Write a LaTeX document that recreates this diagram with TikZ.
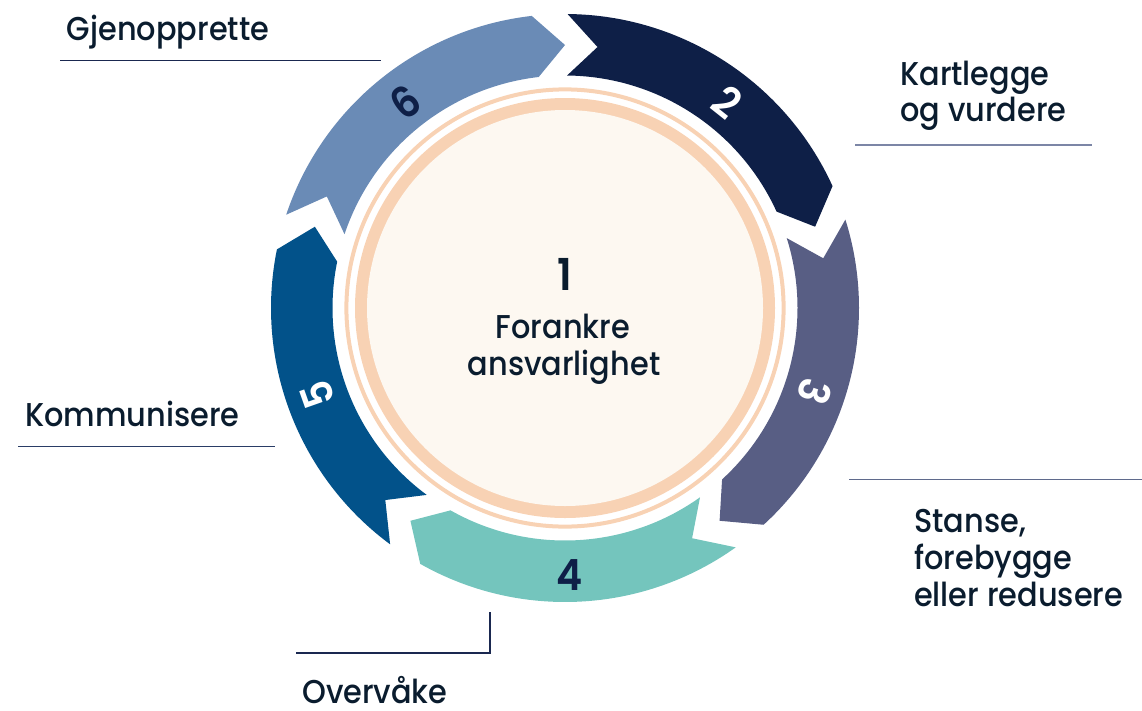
\documentclass[tikz,border=0pt]{standalone}
\usepackage{fontspec}
\setmainfont{Poppins}[UprightFont={* Medium},BoldFont={* SemiBold},FakeStretch=0.92]
\definecolor{segB}{HTML}{0E1F47}
\definecolor{segC}{HTML}{585E84}
\definecolor{segD}{HTML}{74C5BD}
\definecolor{segE}{HTML}{02528A}
\definecolor{segF}{HTML}{6A8BB6}
\definecolor{peach}{HTML}{F8D2B4}
\definecolor{cream}{HTML}{FDF8F1}
\definecolor{ink}{HTML}{0A1C2E}
\definecolor{leadA}{HTML}{1A2850}
\definecolor{leadB}{HTML}{7C86A6}
\definecolor{leadC}{HTML}{5F6A8C}
\definecolor{leadD}{HTML}{2A3D66}
\begin{document}
\begin{tikzpicture}[x=1pt,y=1pt,
  lbl/.style={anchor=base west, inner sep=0pt, text=ink, font=\fontsize{33}{36}\selectfont},
  ctr/.style={anchor=base, inner sep=0pt, text=ink, font=\fontsize{33}{36}\selectfont},
  num/.style={inner sep=0pt, font=\bfseries\fontsize{43}{43}\selectfont},
  leader/.style={line width=1.4pt}]
\useasboundingbox (0,0) rectangle (1142,-710);
\begin{scope}[shift={(565,-308)}]
  \coordinate (c) at (0,0);
  % inner circle with peach rings
  \fill[peach] (c) circle[radius=210pt];
  \fill[cream] (c) circle[radius=198pt];
  \draw[peach, line width=4pt] (c) circle[radius=218.6pt];
  % arrow segments
  \foreach \k/\col in {0/segB,1/segC,2/segD,3/segE,4/segF}{
    \pgfmathsetmacro\T{89.5-72*\k}
    \pgfmathsetmacro\H{\T-65}
    \pgfmathsetmacro\P{\T-71.5}
    \pgfmathsetmacro\N{\T-6.6}
    \fill[\col] (\T:294pt) arc[start angle=\T, end angle=\H, radius=294pt]
      -- (\P:263pt) -- (\H:232.5pt)
      arc[start angle=\H, end angle=\T, radius=232.5pt]
      -- (\N:263pt) -- cycle;
  }
  % numbers
  \node[num, text=white, rotate=-38.5] (n2) at (51.7:262) {2};
  \node[num, text=white, rotate=-108.5] (n3) at (-18.5:263) {3};
  \node[num, text=segB] (n4) at (-89:267) {4};
  \node[num, text=white, rotate=109.4] (n5) at (199.4:262) {5};
  \node[num, text=segB, rotate=36] (n6) at (127.8:260) {6};
\end{scope}
% centre text
\node[ctr, font=\bfseries\fontsize{44}{44}\selectfont] (one) at (565,-290.7) {1};
\node[ctr] (fa) at (563,-338.3) {Forankre};
\node[ctr] (fb) at (564,-375) {ansvarlighet};
% labels
\node[lbl] (gjen) at (66.7,-40) {Gjenopprette};
\draw[leader, leadA] (60,-60.7) coordinate (g1) -- (380.7,-60.7) coordinate (g2);
\node[lbl] (karta) at (900,-85.7) {Kartlegge};
\node[lbl] (kartb) at (900,-121.7) {og vurdere};
\draw[leader, leadB] (855,-145) coordinate (k1) -- (1092,-145) coordinate (k2);
\draw[leader, leadC] (849,-479.3) coordinate (s1) -- (1142,-479.3) coordinate (s2);
\node[lbl] (sta) at (914,-532.7) {Stanse,};
\node[lbl] (stb) at (914,-569.7) {forebygge};
\node[lbl] (stc) at (914,-606.7) {eller redusere};
\node[lbl] (komm) at (25,-426.7) {Kommunisere};
\draw[leader, leadD] (18,-446.7) coordinate (m1) -- (275,-446.7) coordinate (m2);
\draw[leader, leadA] (490,-612) coordinate (o1) -- (490,-653) coordinate (o2) -- (296,-653) coordinate (o3);
\node[lbl] (over) at (302,-703.5) {Overvåke};
\end{tikzpicture}
\end{document}
